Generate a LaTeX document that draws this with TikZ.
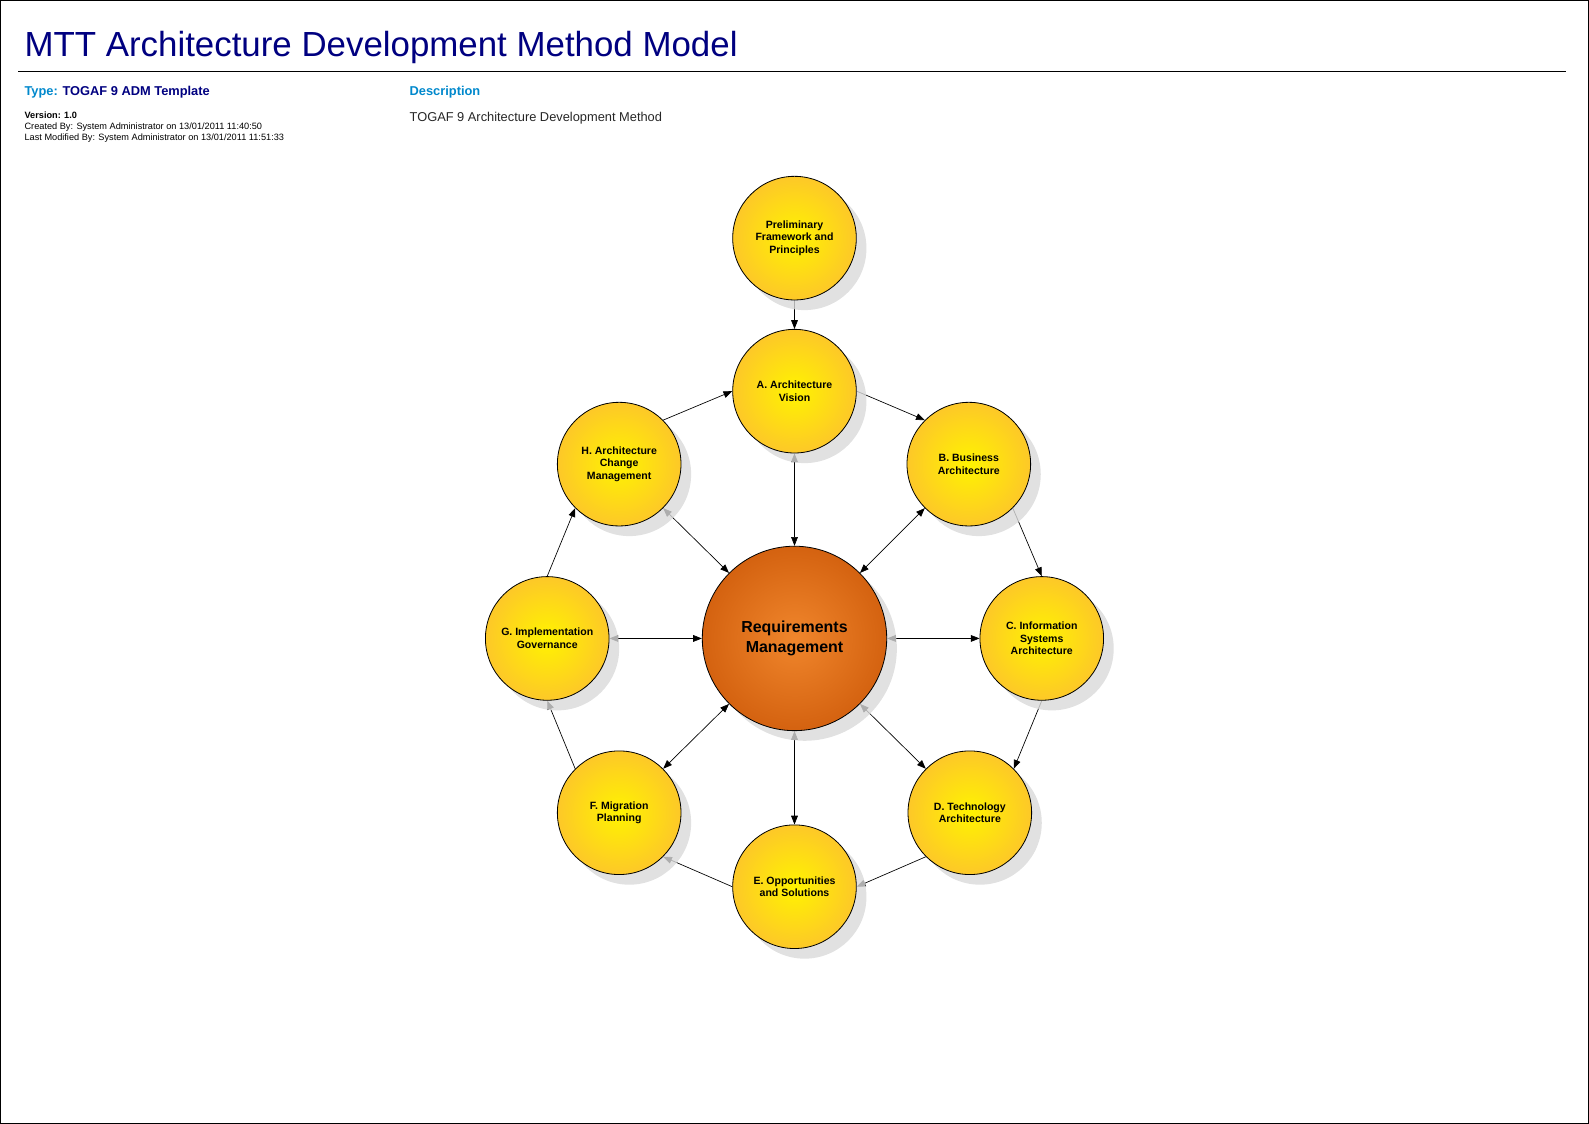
\documentclass[tikz,border=0pt]{standalone}
\usepackage{fontspec}
\setmainfont{Liberation Sans}
\usetikzlibrary{arrows.meta, shadows, backgrounds}
\definecolor{titleblue}{RGB}{0,0,128}
\definecolor{labelblue}{RGB}{0,136,204}
\definecolor{phaseinner}{RGB}{255,243,0}
\definecolor{phaseouter}{RGB}{253,200,40}
\definecolor{reqinner}{RGB}{240,134,44}
\definecolor{reqouter}{RGB}{212,98,16}
\tikzset{
  phase/.style  = {draw, circle, line width=0.6pt, minimum size=91.5pt,
                   inner sep=0pt, align=center,
                   inner color=phaseinner, outer color=phaseouter,
                   font=\fontsize{7.8}{9.4}\selectfont\bfseries,
                   drop shadow={shadow xshift=7.5pt, shadow yshift=-7.5pt,
                                fill=black!15, opacity=0.8}},
  reqphase/.style = {phase, minimum size=136.5pt,
                   inner color=reqinner, outer color=reqouter,
                   font=\fontsize{11.8}{14.3}\selectfont\bfseries},
  arr/.style    = {-{Triangle[length=6.5pt, width=5pt]}, line width=0.5pt},
  biarr/.style  = {{Triangle[length=6.5pt, width=5pt]}-{Triangle[length=6.5pt, width=5pt]},
                   line width=0.5pt},
  titletxt/.style = {anchor=base west, inner sep=0pt, text=titleblue,
                   font=\fontsize{25.8}{30}\selectfont},
  hdr/.style    = {anchor=base west, inner sep=0pt,
                   font=\fontsize{9.5}{11}\selectfont\bfseries},
  meta/.style   = {anchor=base west, inner sep=0pt,
                   font=\fontsize{6.8}{8.2}\selectfont},
  desc/.style   = {anchor=base west, inner sep=0pt, text=black!85,
                   font=\fontsize{9.5}{11}\selectfont}
}

\begin{document}
\begin{tikzpicture}[x=0.75pt, y=-0.75pt]
  \useasboundingbox (0,0) rectangle (1568,1109);
  \draw[line width=0.75pt] (0.5,0.5) rectangle (1567.5,1108.5);

  % ── Header ────────────────────────────────────────────────────────────────
  \node[titletxt] (Title) at (24,56) {MTT Architecture Development Method Model};
  \draw[line width=0.75pt] (18,71) -- (1545,71);

  \node[hdr] (TypeLbl) at (24,94)
    {\textcolor{labelblue}{Type:} \textcolor{titleblue}{TOGAF 9 ADM Template}};
  \node[meta, font=\fontsize{6.8}{8.2}\selectfont\bfseries] (Version) at (24,117) {Version: 1.0};
  \node[meta] (Created) at (24,128) {Created By: System Administrator on 13/01/2011 11:40:50};
  \node[meta] (LastMod) at (24,139) {Last Modified By: System Administrator on 13/01/2011 11:51:33};

  \node[hdr, text=labelblue] (DescLbl) at (404,94) {Description};
  \node[desc] (DescTxt) at (404,120) {TOGAF 9 Architecture Development Method};

  % ── ADM phases ────────────────────────────────────────────────────────────
  \node[phase] (Prelim)     at (784,235) {Preliminary\\Framework and\\Principles};
  \node[phase] (ArchVision) at (784,386) {A. Architecture\\Vision};
  \node[phase] (BizArch)    at (956,458) {B. Business\\Architecture};
  \node[phase] (InfoSys)    at (1028,630) {C. Information\\Systems\\Architecture};
  \node[phase] (TechArch)   at (957,802) {D. Technology\\Architecture};
  \node[phase] (OppSol)     at (784,875) {E. Opportunities\\and Solutions};
  \node[phase] (MigPlan)    at (611,802) {F. Migration\\Planning};
  \node[phase] (ImplGov)    at (540,630) {G. Implementation\\Governance};
  \node[phase] (ArchChange) at (611,458) {H. Architecture\\Change\\Management};

  % ── Requirements management (centre) ──────────────────────────────────────
  \node[reqphase] (ReqMgmt) at (784,630) {Requirements\\Management};

  % ── Connectors (under the shadows) ────────────────────────────────────────
  \begin{scope}[on background layer]
    \draw[arr] (Prelim.south) -- (ArchVision.north);

    % cycle A -> H
    \draw[arr] (ArchChange.45) -- (ArchVision.180);
    \draw[arr] (ArchVision.0)  -- (BizArch.135);
    \draw[arr] (BizArch.-45)   -- (InfoSys.90);
    \draw[arr] (InfoSys.-90)   -- (TechArch.45);
    \draw[arr] (TechArch.225)  -- (OppSol.0);
    \draw[arr] (OppSol.180)    -- (MigPlan.-45);
    \draw[arr] (MigPlan.135)   -- (ImplGov.-90);
    \draw[arr] (ImplGov.90)    -- (ArchChange.225);

    % requirements to every phase
    \foreach \ra/\nd/\pa in {90/ArchVision/-90, 45/BizArch/225, 0/InfoSys/180,
                            -45/TechArch/135, -90/OppSol/90, 225/MigPlan/45,
                            180/ImplGov/0, 135/ArchChange/-45}
      \draw[biarr] (ReqMgmt.\ra) -- (\nd.\pa);
  \end{scope}

\end{tikzpicture}
\end{document}
